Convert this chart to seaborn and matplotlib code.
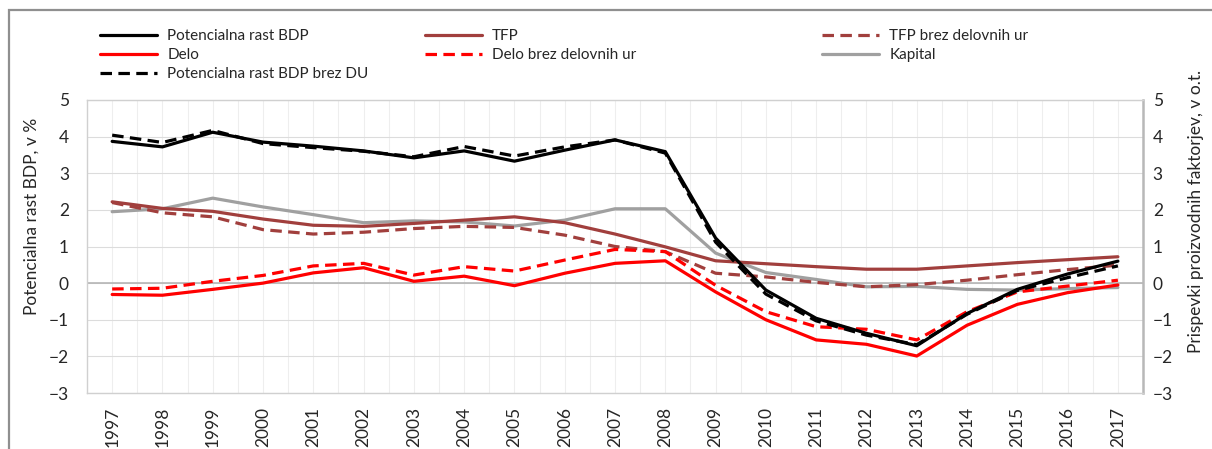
import matplotlib
matplotlib.use("Agg")
import matplotlib.pyplot as plt
from matplotlib.patches import Rectangle
import seaborn as sns
import pandas as pd

# data
years = list(range(1997, 2018))
potencialna = [3.87, 3.72, 4.12, 3.85, 3.74, 3.61, 3.42, 3.61, 3.33, 3.63, 3.91, 3.59,
               1.23, -0.19, -0.96, -1.37, -1.71, -0.83, -0.17, 0.25, 0.60]
potencialna_du = [4.04, 3.84, 4.17, 3.81, 3.70, 3.60, 3.45, 3.73, 3.47, 3.72, 3.91, 3.55,
                  1.12, -0.30, -1.03, -1.42, -1.68, -0.85, -0.20, 0.15, 0.47]
tfp = [2.22, 2.04, 1.96, 1.75, 1.58, 1.55, 1.63, 1.72, 1.81, 1.65, 1.34, 0.99,
       0.61, 0.53, 0.45, 0.38, 0.38, 0.47, 0.56, 0.64, 0.72]
tfp_brez = [2.20, 1.92, 1.81, 1.46, 1.34, 1.39, 1.49, 1.55, 1.52, 1.31, 1.00, 0.86,
            0.27, 0.17, 0.02, -0.10, -0.04, 0.08, 0.23, 0.37, 0.49]
kapital = [1.95, 2.03, 2.32, 2.08, 1.87, 1.65, 1.70, 1.67, 1.56, 1.72, 2.03, 2.03,
           0.82, 0.29, 0.10, -0.10, -0.09, -0.17, -0.19, -0.15, -0.12]
delo = [-0.31, -0.33, -0.17, 0.00, 0.28, 0.42, 0.05, 0.19, -0.07, 0.27, 0.54, 0.61,
        -0.24, -1.00, -1.55, -1.67, -1.99, -1.15, -0.58, -0.26, -0.05]
delo_brez = [-0.16, -0.14, 0.05, 0.21, 0.47, 0.54, 0.22, 0.45, 0.33, 0.63, 0.92, 0.86,
             -0.06, -0.78, -1.19, -1.26, -1.55, -0.78, -0.24, -0.08, 0.08]

df = pd.DataFrame({
    "leto": years,
    "Potencialna rast BDP": potencialna,
    "Potencialna rast BDP brez DU": potencialna_du,
    "TFP": tfp,
    "TFP brez delovnih ur": tfp_brez,
    "Kapital": kapital,
    "Delo": delo,
    "Delo brez delovnih ur": delo_brez,
})

dash = (0, (3.6, 2.0))
brown = "#a13f3d"
# name -> (colour, linestyle), in drawing order
styles = {
    "Kapital": ("#a0a0a0", "-"),
    "TFP": (brown, "-"),
    "TFP brez delovnih ur": (brown, dash),
    "Delo": ("#ff0000", "-"),
    "Delo brez delovnih ur": ("#ff0000", dash),
    "Potencialna rast BDP": ("#000000", "-"),
    "Potencialna rast BDP brez DU": ("#000000", dash),
}

sns.set_style("white")
plt.rcParams["font.family"] = ["Lato", "DejaVu Sans"]

fig = plt.figure(figsize=(12.12, 4.49), dpi=100)
ax = fig.add_axes([0.0718, 0.1247, 0.8713, 0.6526])

lines = {}
for name, (col, ls) in styles.items():
    sns.lineplot(data=df, x="leto", y=name, color=col, linestyle=ls,
                 linewidth=2.3, ax=ax, label=name, legend=False)
    lines[name] = ax.get_lines()[-1]

ax.set_xlim(1996.5, 2017.5)
ax.set_ylim(-3, 5)
ax.set_xticks(years)
ax.set_xticks([y + 0.5 for y in years[:-1]], minor=True)
ax.set_xticklabels([str(y) for y in years], rotation=90, fontsize=12.5)
ax.set_yticks(range(-3, 6))
ax.tick_params(axis="both", length=0, which="both")
ax.tick_params(axis="x", pad=10)
ax.tick_params(axis="y", pad=13, labelsize=12.5)
ax.set_xlabel("")

ax.grid(axis="y", color="#dcdcdc", linewidth=0.8)
ax.grid(axis="x", which="both", color="#eeeeee", linewidth=0.8)
ax.axhline(0, color="#b5b5b5", linewidth=1.2, zorder=1)
ax.set_axisbelow(True)
for side in ["left", "bottom", "top"]:
    ax.spines[side].set_color("#d0d0d0")
    ax.spines[side].set_linewidth(1)
ax.spines["right"].set_color("#b8b8b8")
ax.spines["right"].set_linewidth(1.8)

ax.set_ylabel("Potencialna rast BDP, v %", fontsize=12.5)
ax.yaxis.set_label_coords(-0.045, 0.604)

ax2 = ax.twinx()
ax2.set_ylim(-3, 5)
ax2.set_yticks(range(-3, 6))
ax2.tick_params(axis="y", length=0, pad=7, labelsize=12.5)
for s in ax2.spines.values():
    s.set_visible(False)
ax2.set_ylabel("Prispevki proizvodnih faktorjev, v o.t.", fontsize=12.5)
ax2.yaxis.set_label_coords(1.0426, 0.618)

# legend, three columns laid out like the original
columns = [
    (["Potencialna rast BDP", "Delo", "Potencialna rast BDP brez DU"], 100),
    (["TFP", "Delo brez delovnih ur"], 425),
    (["TFP brez delovnih ur", "Kapital"], 822),
]
for names, xpix in columns:
    fig.legend([lines[n] for n in names], names, loc="upper left",
               bbox_to_anchor=(xpix / 1212, 1 - 29 / 449),
               frameon=False, fontsize=11, handlelength=3.7,
               handletextpad=0.7, labelspacing=0.33,
               borderpad=0, borderaxespad=0)

# outer frame of the figure (only top and left visible)
fig.add_artist(Rectangle((9 / 1212, -0.2), 1.2, 1.2 - 10 / 449,
                         transform=fig.transFigure, fill=False,
                         edgecolor="#8f8f8f", linewidth=1.6, clip_on=False))

fig.savefig("out.png", dpi=100)
